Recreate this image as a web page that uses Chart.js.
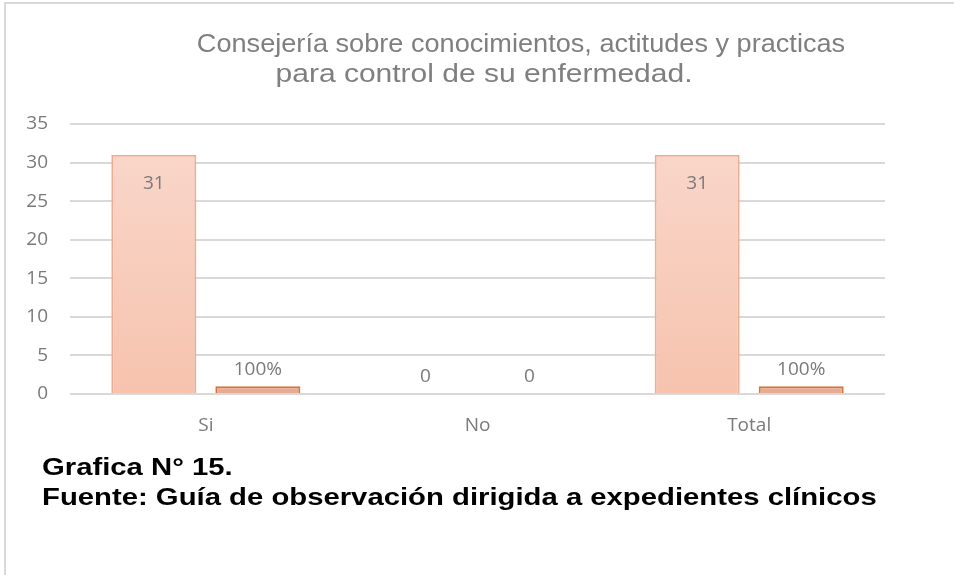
<!DOCTYPE html>
<html>
<head>
<meta charset="utf-8">
<script src="https://cdn.jsdelivr.net/npm/chart.js@4/dist/chart.umd.min.js"></script>
<style>
  html, body { margin:0; padding:0; background:#fff; }
  #wrap { position:relative; width:954px; height:575px; overflow:hidden; }
  #frame { position:absolute; left:4px; top:2px; width:960px; height:600px; border:2px solid #d9d9d9; box-sizing:border-box; }
  .tl { position:absolute; width:1000px; text-align:center; font-family:"Liberation Sans", Arial, sans-serif; font-size:25px; line-height:30px; color:#7f7f7f; white-space:nowrap; transform-origin:500px 0; }
  #t1 { left:21px; top:28px; transform:scaleX(1.085); }
  #t2 { left:-16px; top:58px; transform:scaleX(1.2); }
  #foot { position:absolute; left:42px; top:452px; font-family:"Liberation Sans", Arial, sans-serif; font-weight:bold; font-size:24px; line-height:30px; color:#000; white-space:nowrap; transform:scaleX(1.22); transform-origin:0 0; }
  canvas { position:absolute; left:0; top:0; }
</style>
</head>
<body>
<div id="wrap">
  <div id="frame"></div>
  <canvas id="c" width="954" height="575"></canvas>
  <div class="tl" id="t1">Consejería sobre conocimientos, actitudes y practicas</div>
  <div class="tl" id="t2">para control de su enfermedad.</div>
  <div id="foot">Grafica N° 15.<br>Fuente: Guía de observación dirigida a expedientes clínicos</div>
</div>
<script>
const categories = ["Si", "No", "Total"];
const countValues = [31, 0, 31];
const percentValues = [1, 0, 1];
const countLabels = ["31", "0", "31"];
const percentLabels = ["100%", "0", "100%"];
const yTicks = [0, 5, 10, 15, 20, 25, 30, 35];

const FONT = '"Open Sans", "Noto Sans", sans-serif';

const labelPlugin = {
  id: 'barLabels',
  afterDatasetsDraw(chart) {
    const ctx = chart.ctx;
    ctx.save();
    ctx.font = '19px ' + FONT;
    ctx.fillStyle = '#7a7a7a';
    ctx.textAlign = 'center';
    ctx.textBaseline = 'middle';
    const texts = [countLabels, percentLabels];
    chart.data.datasets.forEach((ds, di) => {
      chart.getDatasetMeta(di).data.forEach((bar, i) => {
        const v = ds.data[i];
        let y;
        if (di === 0 && v > 0) y = bar.y + 29;
        else y = bar.y - 17;
        ctx.fillText(texts[di][i], bar.x, y);
      });
    });
    ctx.restore();
  }
};

const ctx = document.getElementById('c').getContext('2d');
const g1 = ctx.createLinearGradient(0, 154, 0, 394);
g1.addColorStop(0, '#f9d6c9');
g1.addColorStop(1, '#f6c3ae');

new Chart(ctx, {
  type: 'bar',
  data: {
    labels: categories,
    datasets: [
      { data: countValues, backgroundColor: g1, borderColor: '#f2aa90', borderWidth: 2, borderSkipped: 'bottom',
        categoryPercentage: 0.766, barPercentage: 0.817 },
      { data: percentValues, backgroundColor: '#e8aa91', borderColor: '#d6743a', borderWidth: 2, borderSkipped: 'bottom',
        categoryPercentage: 0.766, barPercentage: 0.817 }
    ]
  },
  options: {
    responsive: false,
    animation: false,
    events: [],
    layout: { padding: { left: 0, right: 69, top: 124, bottom: 131 } },
    plugins: { legend: { display: false }, title: { display: false }, tooltip: { enabled: false } },
    scales: {
      x: {
        grid: { display: false },
        border: { display: false },
        ticks: { color: '#7a7a7a', font: { family: FONT, size: 19 }, padding: 12 },
        afterFit(s) { s.height = 50; }
      },
      y: {
        min: 0, max: 35,
        afterBuildTicks(s) { s.ticks = yTicks.map(v => ({ value: v })); },
        grid: { color: '#d9d9d9', lineWidth: 2, drawTicks: false },
        border: { display: false },
        ticks: { color: '#7a7a7a', font: { family: FONT, size: 19 }, padding: 22 },
        afterFit(s) { s.width = 70; }
      }
    }
  },
  plugins: [labelPlugin]
});
</script>
</body>
</html>
